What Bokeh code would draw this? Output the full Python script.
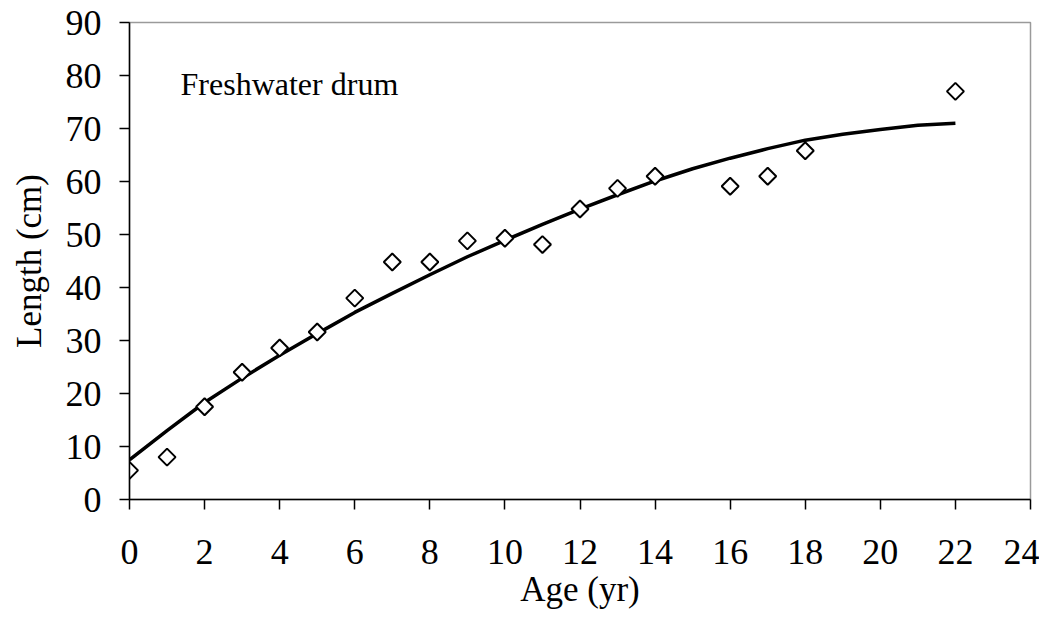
import math
from bokeh.plotting import figure
from bokeh.models import Range1d, FixedTicker, Label
from bokeh.embed import file_html
from bokeh.resources import INLINE

# Observed mean length at age
obs_age = [0, 1, 2, 3, 4, 5, 6, 7, 8, 9, 10, 11, 12, 13, 14, 16, 17, 18, 22]
obs_len = [5.5, 8.0, 17.5, 24.0, 28.6, 31.6, 38.0, 44.8, 44.8, 48.8, 49.3, 48.1, 54.8, 58.7, 61.0, 59.1, 61.0, 65.8, 77.0]

# Fitted growth curve
fit_age = [0, 1, 2, 3, 4, 5, 6, 7, 8, 9, 10, 11, 12, 13, 14, 15, 16, 17, 18, 19, 20, 21, 22]
fit_len = [7.5, 13.0, 18.3, 22.9, 27.2, 31.3, 35.3, 38.9, 42.4, 45.8, 48.9, 51.9, 54.8, 57.5, 60.1, 62.4, 64.4, 66.2, 67.8, 68.9, 69.8, 70.6, 71.0]

x_ticks = list(range(0, 25, 2))
y_ticks = list(range(0, 91, 10))

FONT = "Liberation Serif"

p = figure(width=1039, height=611, output_backend="svg", toolbar_location=None,
           x_range=Range1d(0, 24), y_range=Range1d(0, 90),
           min_border_left=129, min_border_top=22, min_border_right=9, min_border_bottom=110)
p.grid.visible = False
p.outline_line_color = "#9a9a9a"
p.outline_line_width = 1.5
p.background_fill_color = "white"
p.border_fill_color = "white"

for ax in (p.xaxis[0], p.yaxis[0]):
    ax.axis_line_color = "black"
    ax.axis_line_width = 1.5
    ax.major_tick_line_color = "black"
    ax.major_tick_line_width = 1.5
    ax.major_tick_out = 10
    ax.major_tick_in = 0
    ax.minor_tick_line_color = None
    ax.major_label_text_font = FONT
    ax.major_label_text_font_size = "36px"
    ax.major_label_text_color = "black"
    ax.axis_label_text_font = FONT
    ax.axis_label_text_font_size = "35px"
    ax.axis_label_text_font_style = "normal"
    ax.axis_label_text_color = "black"

p.xaxis.ticker = FixedTicker(ticks=x_ticks)
p.yaxis.ticker = FixedTicker(ticks=y_ticks)
p.xaxis.axis_label = "Age (yr)"
p.yaxis.axis_label = "Length (cm)"
p.xaxis.major_label_standoff = 30
p.yaxis.major_label_standoff = 18
p.xaxis.axis_label_standoff = 3
p.yaxis.axis_label_standoff = 14

p.line(fit_age, fit_len, line_color="black", line_width=3.5)
p.scatter(obs_age, obs_len, marker="square", angle=math.pi / 4, size=12,
          fill_color="white", line_color="black", line_width=2)

p.add_layout(Label(x=1.36, y=78.4, text="Freshwater drum", text_font=FONT,
                   text_font_size="32px", text_color="black", text_baseline="alphabetic"))

open("out.html", "w").write(file_html(p, INLINE))
